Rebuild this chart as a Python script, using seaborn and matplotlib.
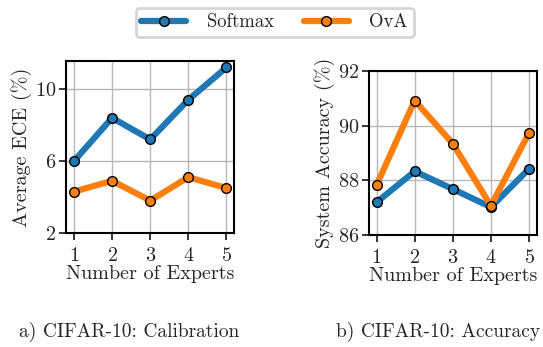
import matplotlib
matplotlib.use("Agg")
import matplotlib.pyplot as plt
import seaborn as sns
import pandas as pd

experts = [1, 2, 3, 4, 5]
methods = ["Softmax", "OvA"]
ece_softmax = [6.0, 8.4, 7.2, 9.4, 11.2]
ece_ova = [4.3, 4.9, 3.8, 5.1, 4.5]
acc_softmax = [87.2, 88.33, 87.68, 87.02, 88.42]
acc_ova = [87.83, 90.92, 89.34, 87.07, 89.73]
captions = ["a) CIFAR-10: Calibration", "b) CIFAR-10: Accuracy"]

sns.set_style("ticks")
plt.rcParams["font.family"] = ["cmr10", "DejaVu Serif"]
plt.rcParams["mathtext.fontset"] = "cm"
plt.rcParams["axes.formatter.use_mathtext"] = True
plt.rcParams["axes.unicode_minus"] = False

def frame(a, b):
    return pd.DataFrame({
        "Number of Experts": experts * 2,
        "value": list(a) + list(b),
        "Method": [methods[0]] * len(experts) + [methods[1]] * len(experts),
    })

df_ece = frame(ece_softmax, ece_ova)
df_acc = frame(acc_softmax, acc_ova)
palette = {"Softmax": "#1f77b4", "OvA": "#ff7f0e"}

fig = plt.figure(figsize=(5.43, 3.47), dpi=100)
ax1 = fig.add_axes([66/543, 1-233/347, 168/543, 172/347])
ax2 = fig.add_axes([369/543, 1-235/347, 168/543, 164/347])

line_kws = dict(marker="o", markersize=7, markeredgecolor="black",
                markeredgewidth=1.0, linewidth=4.5)

for ax, df, ylab in [(ax1, df_ece, "Average ECE (%)"), (ax2, df_acc, "System Accuracy (%)")]:
    sns.lineplot(data=df, x="Number of Experts", y="value", hue="Method",
                 palette=palette, ax=ax, legend=(ax is ax1), zorder=3, **line_kws)
    ax.set_xticks(experts)
    ax.grid(True, color="#b8b8b8", linewidth=1.0, zorder=0)
    ax.set_axisbelow(True)
    ax.set_xlabel("Number of Experts", fontsize=14.5, labelpad=0)
    ax.set_ylabel(ylab, fontsize=14.5, labelpad=2)
    ax.tick_params(axis="both", labelsize=14.5, length=5, width=1.3, direction="out")
    ax.tick_params(axis="x", pad=5)
    ax.tick_params(axis="y", pad=2)
    for s in ax.spines.values():
        s.set_linewidth(1.5)
        s.set_color("black")

ax1.set_xlim(0.79, 5.2)
ax1.set_ylim(2, 11.56)
ax1.set_yticks([2, 6, 10])
ax2.set_xlim(0.8, 5.21)
ax2.set_ylim(86, 92)
ax2.set_yticks([86, 88, 90, 92])

handles, labels = ax1.get_legend_handles_labels()
ax1.get_legend().remove()
leg = fig.legend(handles, labels, loc="center", bbox_to_anchor=(274.5/543, 1-22.5/347),
                 ncol=2, fontsize=13.5, frameon=True, fancybox=True,
                 handlelength=2.4, columnspacing=1.6, borderpad=0.3,
                 handletextpad=1.1)
leg.get_frame().set_edgecolor("#cccccc")
leg.get_frame().set_linewidth(2)

fig.text(129/543, 1-332/347, captions[0], ha="center", va="center", fontsize=14)
fig.text(438/543, 1-332/347, captions[1], ha="center", va="center", fontsize=14)

fig.savefig("out.png", dpi=100)
